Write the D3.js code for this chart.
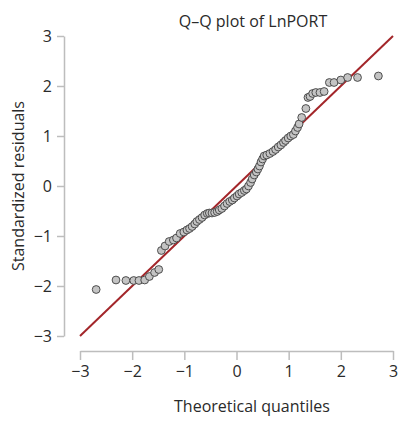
<!DOCTYPE html>
<html>
<head>
<meta charset="utf-8">
<script src="https://cdn.jsdelivr.net/npm/d3@7"></script>
<style>
  html, body { margin: 0; padding: 0; background: #fff; }
  svg text { font-family: "Open Sans", "Noto Sans", sans-serif; }
</style>
</head>
<body>
<svg id="chart" width="401" height="421"></svg>
<script>
const theoretical = [-2.69,-2.31,-2.12,-1.97,-1.87,-1.76,-1.67,-1.57,-1.49,-1.44,-1.37,-1.29,-1.21,-1.15,-1.08,-1.01,-0.95,-0.90,-0.85,-0.80,-0.76,-0.71,-0.66,-0.61,-0.56,-0.52,-0.47,-0.42,-0.37,-0.33,-0.28,-0.23,-0.18,-0.13,-0.08,-0.04,0.01,0.05,0.10,0.15,0.19,0.23,0.27,0.30,0.34,0.38,0.41,0.44,0.47,0.50,0.53,0.58,0.64,0.70,0.75,0.80,0.85,0.90,0.94,0.99,1.04,1.09,1.13,1.17,1.20,1.25,1.33,1.37,1.41,1.46,1.52,1.60,1.68,1.78,1.87,2.00,2.13,2.32,2.72];
const residuals = [-2.07,-1.88,-1.89,-1.89,-1.89,-1.88,-1.81,-1.73,-1.67,-1.29,-1.20,-1.11,-1.08,-1.04,-0.95,-0.92,-0.88,-0.85,-0.81,-0.76,-0.71,-0.67,-0.63,-0.58,-0.55,-0.54,-0.54,-0.53,-0.51,-0.48,-0.45,-0.40,-0.35,-0.31,-0.28,-0.24,-0.20,-0.16,-0.13,-0.09,-0.06,0.00,0.07,0.14,0.22,0.28,0.34,0.40,0.48,0.54,0.60,0.62,0.65,0.69,0.73,0.78,0.82,0.87,0.91,0.96,1.00,1.03,1.10,1.17,1.24,1.37,1.55,1.77,1.79,1.85,1.87,1.87,1.89,2.07,2.07,2.12,2.17,2.17,2.20];
const xTicks = [-3,-2,-1,0,1,2,3];
const yTicks = [-3,-2,-1,0,1,2,3];
const refLine = [-3, 3];

const svg = d3.select("#chart");
const x = d3.scaleLinear().domain([-3, 3]).range([80, 393]);
const y = d3.scaleLinear().domain([-3, 3]).range([336, 36]);
const fmt = d3.format("d");

// axes
const xAxis = svg.append("g").attr("transform", "translate(0,351)")
  .call(d3.axisBottom(x).tickValues(xTicks).tickFormat(fmt).tickSize(9).tickPadding(6).tickSizeOuter(0));
const yAxis = svg.append("g").attr("transform", "translate(64,0)")
  .call(d3.axisLeft(y).tickValues(yTicks).tickFormat(fmt).tickSize(7).tickPadding(5).tickSizeOuter(0));
[xAxis, yAxis].forEach(g => {
  g.select(".domain").attr("stroke", "#bdbdbd").attr("stroke-width", 1.5);
  g.selectAll(".tick line").attr("stroke", "#bdbdbd").attr("stroke-width", 1.5);
  g.selectAll(".tick text").attr("fill", "#2a2a2a").style("font-size", "16px");
});

// reference line
svg.append("line")
  .attr("x1", x(refLine[0])).attr("y1", y(refLine[0]))
  .attr("x2", x(refLine[1])).attr("y2", y(refLine[1]))
  .attr("stroke", "#a3262a").attr("stroke-width", 2);

// points
svg.append("g").selectAll("circle")
  .data(theoretical.map((t, i) => [t, residuals[i]]))
  .join("circle")
  .attr("cx", d => x(d[0])).attr("cy", d => y(d[1]))
  .attr("r", 3.9)
  .attr("fill", "#c4c4c4").attr("stroke", "#404040").attr("stroke-width", 0.9);

// titles
svg.append("text").attr("x", 253).attr("y", 27).attr("text-anchor", "middle")
  .attr("fill", "#2a2a2a").style("font-size", "16px").text("Q–Q plot of LnPORT");
svg.append("text").attr("x", 252).attr("y", 412).attr("text-anchor", "middle")
  .attr("fill", "#2a2a2a").style("font-size", "16px").text("Theoretical quantiles");
svg.append("text").attr("transform", "translate(24,186) rotate(-90)").attr("text-anchor", "middle")
  .attr("fill", "#2a2a2a").style("font-size", "16px").text("Standardized residuals");
</script>
</body>
</html>
